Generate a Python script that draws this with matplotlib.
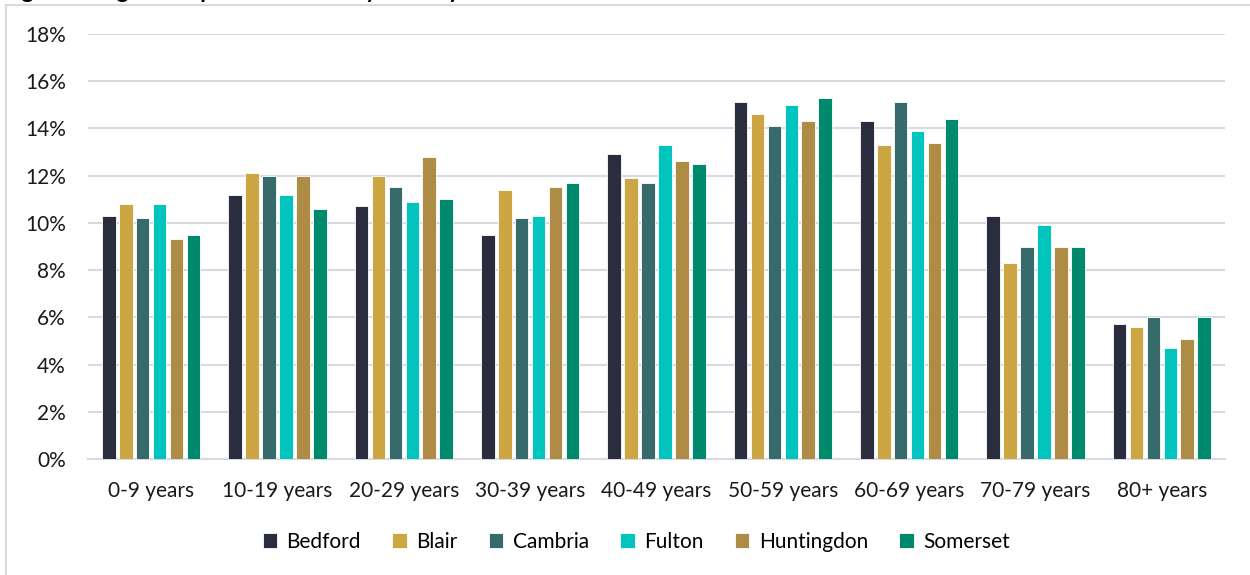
import numpy as np
import matplotlib
matplotlib.use("Agg")
from matplotlib import pyplot as plt
from matplotlib.lines import Line2D
from matplotlib.ticker import FuncFormatter

age_groups = ['0-9 years', '10-19 years', '20-29 years', '30-39 years', '40-49 years',
              '50-59 years', '60-69 years', '70-79 years', '80+ years']
counties = ['Bedford', 'Blair', 'Cambria', 'Fulton', 'Huntingdon', 'Somerset']

# share of population (%) in each age group
bedford = [10.3, 11.2, 10.7, 9.5, 12.9, 15.1, 14.3, 10.3, 5.7]
blair = [10.8, 12.1, 12.0, 11.4, 11.9, 14.6, 13.3, 8.3, 5.6]
cambria = [10.2, 12.0, 11.5, 10.2, 11.7, 14.1, 15.1, 9.0, 6.0]
fulton = [10.8, 11.2, 10.9, 10.3, 13.3, 15.0, 13.9, 9.9, 4.7]
huntingdon = [9.3, 12.0, 12.8, 11.5, 12.6, 14.3, 13.4, 9.0, 5.1]
somerset = [9.5, 10.6, 11.0, 11.7, 12.5, 15.3, 14.4, 9.0, 6.0]

colors = ['#2a2d3e', '#cca642', '#376b6b', '#00c4bd', '#ae8c45', '#008a6d']
grid_color = '#d9d9e3'

plt.rcParams['font.family'] = ['Lato', 'DejaVu Sans']

fig = plt.figure(figsize=(12.5, 5.75), dpi=100)
ax = fig.add_axes([0.0704, 0.2017, 0.9096, 0.7392])

x = np.arange(len(age_groups))
step = 0.1345
series = [bedford, blair, cambria, fulton, huntingdon, somerset]
for i, (name, vals, c) in enumerate(zip(counties, series, colors)):
    ax.bar(x + (i - 2.5) * step, vals, width=0.108, color=c,
           edgecolor='white', linewidth=0.6, label=name, zorder=3)

ax.set_xlim(-0.5, len(age_groups) - 0.5)
ax.set_ylim(0, 18)
ax.set_yticks(range(0, 19, 2))
ax.yaxis.set_major_formatter(FuncFormatter(lambda v, _: f'{v:.0f}%'))
ax.set_xticks(x)
ax.set_xticklabels(age_groups)
ax.grid(axis='y', color=grid_color, linewidth=1.5, zorder=0)
ax.tick_params(axis='both', length=0, labelsize=15, colors='#1a1a1a')
ax.tick_params(axis='y', pad=16)
ax.tick_params(axis='x', pad=16)
for side in ['top', 'right', 'left']:
    ax.spines[side].set_visible(False)
ax.spines['bottom'].set_color(grid_color)
ax.spines['bottom'].set_linewidth(1.5)

ax.legend(loc='center', bbox_to_anchor=(0.509, (575 - 542) / 575), bbox_transform=fig.transFigure,
          ncol=6, frameon=False, fontsize=15, handlelength=0.7, handleheight=0.7,
          handletextpad=0.45, columnspacing=1.5)

# chart area frame (top and left edges)
fig.add_artist(Line2D([6 / 1250, 1.0], [1 - 5 / 575, 1 - 5 / 575], color=grid_color,
                      linewidth=1.5, transform=fig.transFigure))
fig.add_artist(Line2D([6 / 1250, 6 / 1250], [0, 1 - 5 / 575], color=grid_color,
                      linewidth=1.5, transform=fig.transFigure))

# heading sits above the chart area
fig.text(0.002, 1 + 2 / 575, 'Figure 3: Age Group Distribution by County', fontsize=17,
         fontweight='bold', va='baseline', ha='left')

fig.savefig('out.png', dpi=100, facecolor='white')
